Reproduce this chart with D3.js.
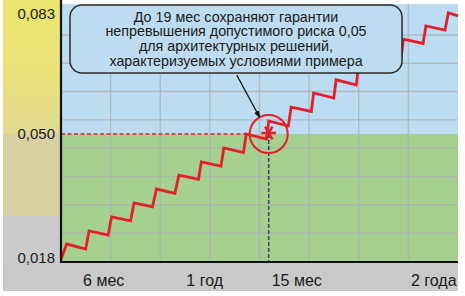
<!DOCTYPE html>
<html><head><meta charset="utf-8">
<script src="https://cdn.jsdelivr.net/npm/d3@7"></script>
<style>
body{margin:0;background:#fff}
svg{display:block;font-family:"Liberation Sans",Arial,Helvetica,sans-serif}
</style>
</head><body>
<svg id="chart" width="465" height="296"></svg>
<script>
// ---- data ----
const yTickValues = [0.018, 0.050, 0.083];
const yTickLabels = ["0,018", "0,050", "0,083"];
const xTickLabels = ["6 мес", "1 год", "15 мес", "2 года"];
const xTickAt = [4.3, 13.3, 21.5, 33.7];
const startPoint = [0.5, 0.0176];
const peakT = [1, 3, 5, 7, 9, 11, 13, 15, 17, 19, 21, 23, 25, 27, 29, 31, 33, 35];
const peakRisk = [0.0216, 0.0250, 0.0286, 0.0322, 0.0358, 0.0394, 0.0428, 0.0464, 0.0500,
                  0.0536, 0.0574, 0.0613, 0.0649, 0.0690, 0.0726, 0.0761, 0.0797, 0.0833];
const troughT = [2.7, 4.7, 6.7, 8.65, 10.65, 12.75, 14.75, 16.75, 18.8, 20.75, 22.8, 24.8,
                 26.8, 28.85, 30.8, 32.75, 34.7];
const troughRisk = [0.0203, 0.0239, 0.0276, 0.0312, 0.0347, 0.0383, 0.0417, 0.0452, 0.0487,
                    0.0522, 0.0562, 0.0599, 0.0635, 0.0676, 0.0712, 0.0749, 0.0786];
const endPoint = [35.86, 0.0825];
const limitRisk = 0.05;
const limitReachT = 17;
const guaranteeT = 19;
const noteLines = [
  "До 19 мес сохраняют гарантии",
  "непревышения допустимого риска 0,05",
  "для архитектурных решений,",
  "характеризуемых условиями примера"
];

// ---- layout ----
const L = 61, R = 458, T = 4, B = 262;
const svg = d3.select("#chart");

const x = d3.scaleLinear().domain([startPoint[0], endPoint[0]]).range([L, R]);
const y = d3.scaleLinear().domain([0.018, 0.050, 0.083]).range([258, 134, 14]);

const defs = svg.append("defs");
const g1 = defs.append("linearGradient").attr("id", "yel").attr("x1", 0).attr("x2", 0).attr("y1", 0).attr("y2", 1);
g1.append("stop").attr("offset", "0%").attr("stop-color", "#ebe56e");
g1.append("stop").attr("offset", "55%").attr("stop-color", "#e9e27a");
g1.append("stop").attr("offset", "100%").attr("stop-color", "#e2da92");
const mk = defs.append("marker").attr("id", "arr").attr("viewBox", "0 0 10 10")
  .attr("refX", 9).attr("refY", 5).attr("markerWidth", 7).attr("markerHeight", 7)
  .attr("orient", "auto").attr("markerUnits", "userSpaceOnUse");
mk.append("path").attr("d", "M0,1 L10,5 L0,9 Z").attr("fill", "#111");

// left panel + bottom band
const yLim = y(limitRisk);
svg.append("rect").attr("x", 3).attr("y", 0).attr("width", L - 3).attr("height", yLim).attr("fill", "url(#yel)");
svg.append("rect").attr("x", 3).attr("y", yLim).attr("width", L - 3).attr("height", 216 - yLim).attr("fill", "#d7d1a1");
svg.append("rect").attr("x", 3).attr("y", 216).attr("width", L - 3).attr("height", B - 216).attr("fill", "#cbcbcb");
svg.append("rect").attr("x", 3).attr("y", B).attr("width", R - 3).attr("height", 291 - B).attr("fill", "#c9c9c9");

// plot background zones
svg.append("rect").attr("x", L).attr("y", T).attr("width", R - L).attr("height", yLim - T).attr("fill", "#bcdcf1");
svg.append("rect").attr("x", L).attr("y", yLim).attr("width", R - L).attr("height", B - yLim).attr("fill", "#a6d090");

// grid
const gridX = d3.range(1, 8).map(i => x.domain()[0] + i * (x.domain()[1] - x.domain()[0]) / 8);
const gy = d3.scaleLinear().domain([0, 7]).range([35, 233]);
const gridY = d3.range(0, 8).map(i => gy(i));
const grid = svg.append("g").attr("stroke", "#a9aeb4").attr("stroke-opacity", 0.7).attr("stroke-width", 1.4);
grid.selectAll("line.v").data(gridX).join("line").attr("class", "v")
  .attr("x1", d => x(d)).attr("x2", d => x(d)).attr("y1", T).attr("y2", B);
grid.selectAll("line.h").data(gridY).join("line").attr("class", "h")
  .attr("x1", L).attr("x2", R).attr("y1", d => d).attr("y2", d => d);

// dashed limit line
svg.append("line").attr("x1", x(startPoint[0])).attr("x2", x(limitReachT))
  .attr("y1", yLim).attr("y2", yLim).attr("stroke", "#d8252b").attr("stroke-width", 1.3)
  .attr("stroke-dasharray", "4,2.5");
// vertical dashed guarantee line
svg.append("line").attr("x1", x(guaranteeT)).attr("x2", x(guaranteeT))
  .attr("y1", yLim).attr("y2", B).attr("stroke", "#2c4a5c").attr("stroke-width", 1.5)
  .attr("stroke-dasharray", "4,2");

// sawtooth line
const pts = [startPoint];
peakT.forEach((t, i) => {
  pts.push([t, peakRisk[i]]);
  if (i < troughT.length) pts.push([troughT[i], troughRisk[i]]);
});
pts.push(endPoint);
svg.append("path").datum(pts)
  .attr("d", d3.line().x(d => x(d[0])).y(d => y(d[1])))
  .attr("fill", "none").attr("stroke", "#e3202a").attr("stroke-width", 2.8)
  .attr("stroke-linejoin", "miter");

// axes lines
svg.append("line").attr("x1", L).attr("x2", L).attr("y1", 0).attr("y2", B + 1)
  .attr("stroke", "#111").attr("stroke-width", 2.2);
svg.append("line").attr("x1", L).attr("x2", R).attr("y1", B).attr("y2", B)
  .attr("stroke", "#111").attr("stroke-width", 2.2);

// y labels via axis
const yAxis = d3.axisLeft(y).tickValues(yTickValues).tickSize(0).tickPadding(6)
  .tickFormat((d, i) => yTickLabels[i]);
const ya = svg.append("g").attr("transform", `translate(${L},0)`).call(yAxis);
ya.select(".domain").remove();
ya.selectAll("text").attr("font-size", 15).attr("fill", "#1a1a1a")
  .attr("font-family", '"Liberation Sans",Arial,sans-serif');

// x labels
svg.append("g").selectAll("text").data(xTickLabels).join("text")
  .attr("x", (d, i) => x(xTickAt[i])).attr("y", 285.5)
  .attr("text-anchor", "middle").attr("font-size", 16).attr("fill", "#1a1a1a").text(d => d);

// circle and star
const cx = x(guaranteeT), cy = y(limitRisk), cr = 19;
svg.append("circle").attr("cx", cx).attr("cy", cy).attr("r", cr)
  .attr("fill", "none").attr("stroke", "#e3202a").attr("stroke-width", 2);
svg.append("path").attr("d", d3.symbol(d3.symbolAsterisk, 150)())
  .attr("transform", `translate(${cx},${cy - 1}) rotate(90)`)
  .attr("fill", "none").attr("stroke", "#e3202a").attr("stroke-width", 2.6);

// annotation
const bx = 70, by = 5, bw = 332, bh = 68;
svg.append("rect").attr("x", bx).attr("y", by).attr("width", bw).attr("height", bh)
  .attr("rx", 12).attr("fill", "#bddcf1").attr("stroke", "#2a2a2a").attr("stroke-width", 1.5);
svg.append("g").selectAll("text").data(noteLines).join("text")
  .attr("x", bx + bw / 2).attr("y", (d, i) => 21.5 + i * 14.8)
  .attr("text-anchor", "middle").attr("font-size", 14.3).attr("fill", "#1a1a1a").text(d => d);
const sx = bx + bw / 2 + 0.7, sy = by + bh + 2;
const dx = cx - sx, dy = cy - sy, dl = Math.hypot(dx, dy);
svg.append("line").attr("x1", sx).attr("y1", sy)
  .attr("x2", cx - cr * dx / dl).attr("y2", cy - cr * dy / dl)
  .attr("stroke", "#111").attr("stroke-width", 1.3).attr("marker-end", "url(#arr)");
</script>
</body></html>
